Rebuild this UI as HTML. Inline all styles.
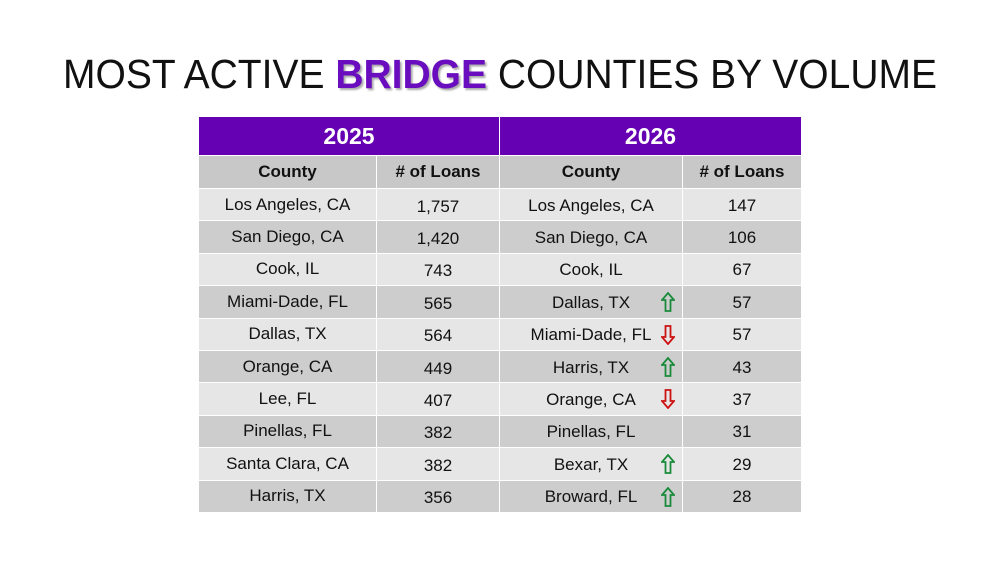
<!DOCTYPE html>
<html><head><meta charset="utf-8"><style>
body{margin:0;width:1000px;height:563px;background:#fff;overflow:hidden;font-family:"Liberation Sans",sans-serif;position:relative}
.c{position:absolute;display:flex;align-items:center;justify-content:center;color:#111;font-size:17px;box-sizing:border-box}
.h{background:#6600b3;color:#fff;font-weight:bold;font-size:23px}
.s{background:#c8c8c8;font-weight:bold;font-size:17px}
.arr{position:absolute}
</style></head><body>
<svg style="position:absolute;left:0;top:0" width="1000" height="110">
<text x="63" y="88" font-size="41" font-family="Liberation Sans, sans-serif" fill="#111" textLength="874" lengthAdjust="spacingAndGlyphs">MOST ACTIVE <tspan font-weight="bold" fill="#6a0dbf" style="text-shadow:2px 2px 2px #aaa">BRIDGE</tspan> COUNTIES BY VOLUME</text>
</svg>
<div id="t"></div>
<script>
const y25=["Los Angeles, CA","San Diego, CA","Cook, IL","Miami-Dade, FL","Dallas, TX","Orange, CA","Lee, FL","Pinellas, FL","Santa Clara, CA","Harris, TX"];
const n25=["1,757","1,420","743","565","564","449","407","382","382","356"];
const y26=["Los Angeles, CA","San Diego, CA","Cook, IL","Dallas, TX","Miami-Dade, FL","Harris, TX","Orange, CA","Pinellas, FL","Bexar, TX","Broward, FL"];
const n26=["147","106","67","57","57","43","37","31","29","28"];
const trend=["","","","up","down","up","down","","up","up"];
const t=document.getElementById('t');
const cols=[[199,177],[377,122],[500,182],[683,118]];
function cell(x,y,w,h,txt,cls,bg,dy){const d=document.createElement('div');d.className='c '+cls;


d.style.cssText=`left:${x}px;top:${y}px;width:${w}px;height:${h}px;${bg?'background:'+bg+';':''}${dy?'padding-top:'+dy+'px;':''}`;d.textContent=txt;t.appendChild(d);return d;}
cell(199,117,300,38,'2025','h');
cell(500,117,301,38,'2026','h');
['County','# of Loans','County','# of Loans'].forEach((s,i)=>cell(cols[i][0],156,cols[i][1],32,s,'s'));
for(let i=0;i<10;i++){const y=189+i*32.4,bg=i%2?'#cdcdcd':'#e6e6e6';
cell(cols[0][0],y,cols[0][1],31.4,y25[i],'',bg,-(10));
cell(cols[1][0],y,cols[1][1],31.4,n25[i],'',bg,4);
const c=cell(cols[2][0],y,cols[2][1],31.4,y26[i],'',bg,2);
cell(cols[3][0],y,cols[3][1],31.4,n26[i],'',bg,2);
if(trend[i]){const up=trend[i]==='up',col=up?'#1a8a3a':'#cc1111';
const s=document.createElementNS('http://www.w3.org/2000/svg','svg');


s.setAttribute('width','14');s.setAttribute('height','20');s.setAttribute('class','arr');
s.style.left='661px';s.style.top=(y+6)+'px';
const p=up?'M7 1 L13 8 L9.5 8 L9.5 19 L4.5 19 L4.5 8 L1 8 Z':'M7 19 L13 12 L9.5 12 L9.5 1 L4.5 1 L4.5 12 L1 12 Z';
s.innerHTML=`<path d="${p}" fill="none" stroke="${col}" stroke-width="1.8"/>`;t.appendChild(s);}
}
</script>
</body></html>
